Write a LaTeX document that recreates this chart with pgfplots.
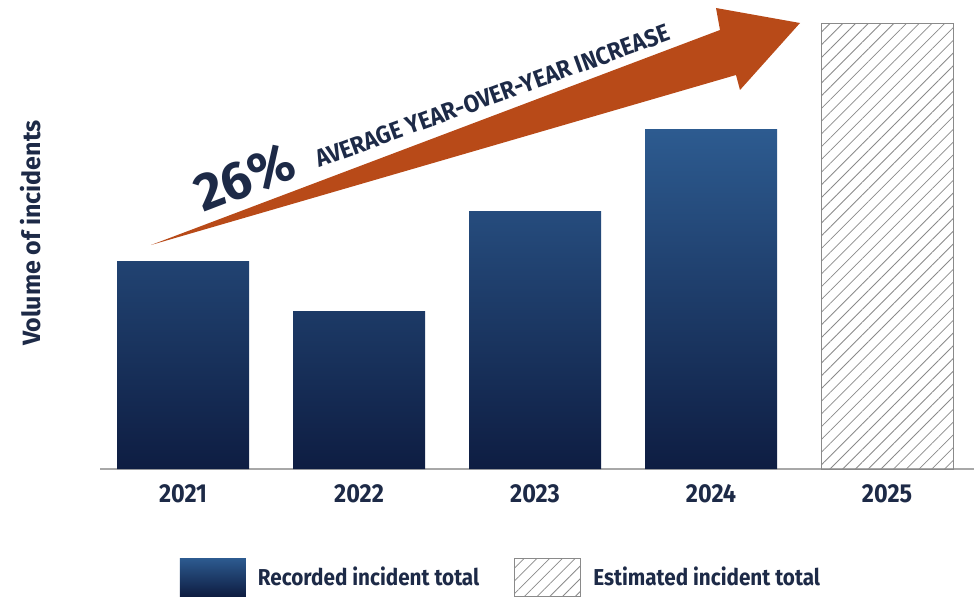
\documentclass[border=0pt]{standalone}
\usepackage{pgfplots}
\pgfplotsset{compat=1.18}
\usetikzlibrary{patterns.meta}
\usepackage{fontspec}
\setmainfont{Fira Sans}
\newfontfamily\cond{Fira Sans}[FakeStretch=0.9]
\newfontfamily\arrf{Fira Sans}[FakeStretch=0.92]
\definecolor{navy}{HTML}{1D2A47}
\definecolor{bartop}{HTML}{2D5B90}
\definecolor{barbot}{HTML}{0E1D42}
\definecolor{arrowor}{HTML}{B84A18}
\definecolor{hatchgray}{HTML}{8A8A8A}
\definecolor{basegray}{HTML}{A8A8A8}
\begin{document}
\begin{tikzpicture}
\useasboundingbox (0pt,0pt) rectangle (974pt,-599pt);
\begin{axis}[
  at={(100pt,-469pt)}, anchor=south west,
  scale only axis, width=874pt, height=469pt,
  xmin=-0.4716, xmax=4.494, ymin=0, ymax=469,
  axis y line=none, axis x line*=bottom,
  x axis line style={-, draw=basegray, line width=1.5pt},
  xtick={0,1,2,3,4}, xticklabels={2021,2022,2023,2024,2025},
  major tick length=0pt, ytick=\empty,
  xticklabel style={anchor=base, yshift=-33pt, text=navy,
    font=\cond\bfseries\fontsize{26}{26}\selectfont},
  clip=false,
  legend columns=2,
  legend cell align=left,
  legend style={at={(0.0915,-0.2303)}, anchor=west, draw=none, fill=none,
    inner sep=0pt, outer sep=0pt, text=navy,
    font=\cond\bfseries\fontsize{23}{23}\selectfont,
    nodes={inner sep=0pt},
    /tikz/every odd column/.append style={column sep=12pt},
    /tikz/every even column/.append style={column sep=35pt}},
]
\addplot[ybar, bar width=132pt, bar shift=0pt, draw=none,
  top color=bartop, bottom color=barbot,
  legend image code/.code={\path[top color=bartop,bottom color=barbot] (0pt,-19pt) rectangle (66pt,19pt);}]
  coordinates {(0,208) (1,158) (2,258) (3,340)};
\addlegendentry{Recorded incident total}
\addplot[ybar, bar width=132pt, bar shift=0pt, draw=hatchgray, line width=1pt,
  pattern={Lines[angle=45,distance=9pt,line width=0.8pt]}, pattern color=hatchgray,
  legend image code/.code={\draw[hatchgray, line width=1pt, pattern={Lines[angle=45,distance=9pt,line width=0.8pt]}, pattern color=hatchgray] (0pt,-19pt) rectangle (66pt,19pt);}]
  coordinates {(4,445)};
\addlegendentry{Estimated incident total}
\end{axis}
\node[rotate=90, text=navy, font=\bfseries\fontsize{25}{25}\selectfont] at (31pt,-233pt) {Volume of incidents};
\fill[arrowor] (151pt,-245pt) -- (720pt,-30pt) -- (716pt,-8pt) -- (800pt,-23pt) -- (740pt,-90pt) -- (736pt,-75pt) -- cycle;
\node[rotate=21, anchor=base west, inner sep=0pt, text=navy, font=\bfseries\fontsize{53}{53}\selectfont] at (203pt,-213pt) {26\%};
\node[rotate=20, anchor=base west, inner sep=0pt, text=navy, font=\arrf\bfseries\fontsize{24.5}{24.5}\selectfont] at (319pt,-168pt) {AVERAGE YEAR-OVER-YEAR INCREASE};
\end{tikzpicture}
\end{document}
